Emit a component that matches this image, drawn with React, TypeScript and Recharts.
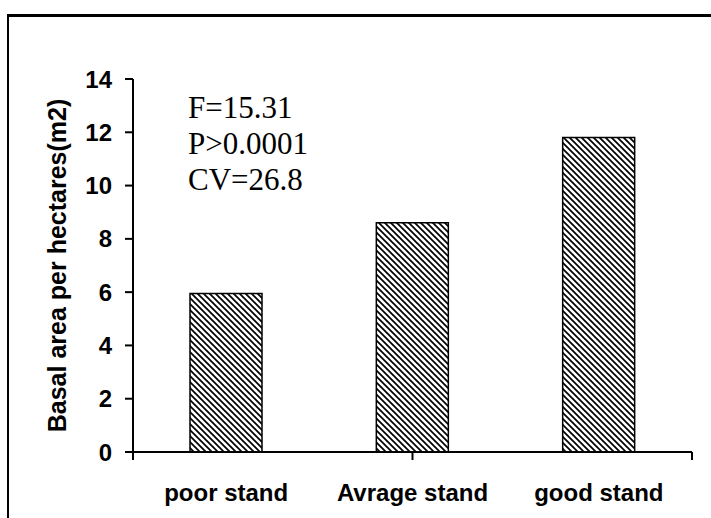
import React from 'react';
import { BarChart, Bar, XAxis, YAxis } from 'recharts';

const categories = ['poor stand', 'Avrage stand', 'good stand'];
const basalArea = [5.95, 8.6, 11.8];
const yTicks = [0, 2, 4, 6, 8, 10, 12, 14];
const boundaryTicks = [0, 1, 2, 3];
const statLines = ['F=15.31', 'P>0.0001', 'CV=26.8'];

const data = categories.map((name, i) => ({ name, value: basalArea[i] }));

const tickFont = { fontFamily: 'Liberation Sans, Arial, sans-serif', fontWeight: 700, fontSize: 24, fill: '#000' };

export default function App() {
  return (
    <div style={{ position: 'absolute', left: 0, top: 0, width: 711, height: 518, background: '#fff', overflow: 'hidden' }}>
      <svg width="0" height="0" style={{ position: 'absolute' }}>
        <defs>
          <pattern id="hatch" patternUnits="userSpaceOnUse" width="6" height="6">
            <rect width="6" height="6" fill="#fff" />
            <path d="M0,0 L6,6 M-1,5 L1,7 M5,-1 L7,1" stroke="#000" strokeWidth="1.7" />
          </pattern>
        </defs>
      </svg>
      <div
        style={{
          position: 'absolute',
          left: 7,
          top: 14,
          width: 730,
          height: 530,
          borderLeft: '2.5px solid #000',
          borderTop: '3px solid #000',
        }}
      />
      <div style={{ position: 'absolute', left: 0, top: 0 }}>
        <BarChart width={711} height={518} data={data} margin={{ top: 79, right: 19, bottom: 6, left: 73 }}>
          <XAxis
            xAxisId="b-cat"
            dataKey="name"
            height={59}
            tickLine={false}
            tickSize={0}
            tickMargin={31}
            axisLine={false}
            tick={tickFont}
            interval={0}
          />
          <XAxis
            xAxisId="a-edge"
            type="number"
            domain={[0, 3]}
            ticks={boundaryTicks}
            height={1}
            axisLine={{ stroke: '#000', strokeWidth: 2 }}
            tickSize={8}
            tickLine={{ stroke: '#000', strokeWidth: 2 }}
            tickFormatter={() => ''}
          />
          <YAxis
            domain={[0, 14]}
            ticks={yTicks}
            width={60}
            tickSize={8}
            tickMargin={13}
            axisLine={{ stroke: '#000', strokeWidth: 2 }}
            tickLine={{ stroke: '#000', strokeWidth: 2 }}
            tick={tickFont}
            label={{
              value: 'Basal area per hectares(m2)',
              angle: -90,
              position: 'left',
              offset: 16,
              style: { fontFamily: 'Liberation Sans, Arial, sans-serif', fontWeight: 700, fontSize: 25, fill: '#000', textAnchor: 'middle' },
            }}
          />
          <Bar
            xAxisId="b-cat"
            dataKey="value"
            barSize={72}
            fill="url(#hatch)"
            stroke="#000"
            strokeWidth={1.5}
            isAnimationActive={false}
          />
          {statLines.map((line, i) => (
            <text
              key={line}
              x={188}
              y={118 + i * 36}
              style={{ fontFamily: 'Liberation Serif, Times New Roman, serif', fontSize: 31, fill: '#000' }}
            >
              {line}
            </text>
          ))}
        </BarChart>
      </div>
    </div>
  );
}
